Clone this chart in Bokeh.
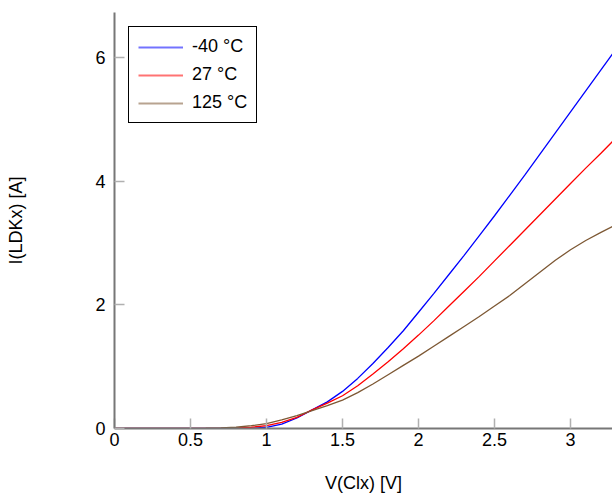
from bokeh.plotting import figure
from bokeh.models import Range1d, FixedTicker, Legend, LegendItem
from bokeh.embed import file_html
from bokeh.resources import INLINE

# Data
v_clx = [0, 0.2, 0.4, 0.6, 0.7, 0.8, 0.9, 1.0, 1.1, 1.2, 1.3, 1.4, 1.5, 1.6, 1.7,
         1.8, 1.9, 2.0, 2.1, 2.2, 2.3, 2.4, 2.5, 2.6, 2.7, 2.8, 2.9, 3.0, 3.1, 3.2, 3.28]
i_m40 = [0, 0, 0, 0, 0, 0.001, 0.005, 0.02, 0.07, 0.17, 0.30, 0.43, 0.60, 0.81, 1.05,
         1.31, 1.58, 1.88, 2.18, 2.49, 2.80, 3.12, 3.44, 3.77, 4.10, 4.44, 4.78, 5.12, 5.46, 5.80, 6.07]
i_27 = [0, 0, 0, 0.001, 0.003, 0.008, 0.02, 0.045, 0.10, 0.18, 0.30, 0.41, 0.53, 0.69, 0.88,
        1.08, 1.29, 1.51, 1.74, 1.98, 2.22, 2.46, 2.71, 2.96, 3.21, 3.46, 3.71, 3.96, 4.21, 4.45, 4.65]
i_125 = [0, 0, 0.001, 0.005, 0.01, 0.02, 0.045, 0.08, 0.14, 0.21, 0.29, 0.37, 0.46, 0.58, 0.72,
         0.87, 1.02, 1.17, 1.33, 1.49, 1.65, 1.81, 1.98, 2.15, 2.34, 2.53, 2.72, 2.89, 3.04, 3.17, 3.27]
series_labels = ["-40 °C", "27 °C", "125 °C"]
series_colors = ["#0000ff", "#ff0000", "#7d5834"]
x_ticks = [0, 0.5, 1, 1.5, 2, 2.5, 3]
y_ticks = [0, 2, 4, 6]

FONT = "Liberation Sans"
FS = "18px"

p = figure(width=612, height=495, output_backend="svg", toolbar_location=None,
           x_range=Range1d(0, 3.276), y_range=Range1d(0, 6.726),
           min_border_left=114, min_border_top=12, min_border_right=0,
           min_border_bottom=66)
p.outline_line_color = None
p.xgrid.visible = False
p.ygrid.visible = False

legend_renderers = []
for ys, c in zip([i_m40, i_27, i_125], series_colors):
    p.line(v_clx, ys, line_color=c, line_width=1.3)
    # hidden copy used only for the legend swatch (softer, like the reference)
    lr = p.line(v_clx, ys, line_color=c, line_width=2, line_alpha=0.55, visible=False)
    legend_renderers.append(lr)

for ax in (p.xaxis[0], p.yaxis[0]):
    ax.axis_line_color = "#777777"
    ax.axis_line_width = 2
    ax.major_tick_line_color = "#b0b0b0"
    ax.major_tick_line_width = 1.5
    ax.major_tick_in = 10
    ax.major_tick_out = 0
    ax.minor_tick_line_color = None
    ax.major_label_text_font = FONT
    ax.major_label_text_font_size = FS
    ax.major_label_text_color = "black"
    ax.axis_label_text_font = FONT
    ax.axis_label_text_font_size = FS
    ax.axis_label_text_font_style = "normal"
    ax.axis_label_text_color = "black"

p.xaxis.ticker = FixedTicker(ticks=x_ticks)
p.yaxis.ticker = FixedTicker(ticks=y_ticks)
p.xaxis.major_label_overrides = {0: "0", 0.5: "0.5", 1: "1", 1.5: "1.5", 2: "2", 2.5: "2.5", 3: "3"}
p.xaxis.axis_label = "V(Clx) [V]"
p.yaxis.axis_label = "I(LDKx) [A]"
p.xaxis.major_label_standoff = 4
p.xaxis.axis_label_standoff = 24
p.yaxis.major_label_standoff = 9
p.yaxis.axis_label_standoff = 66

legend = Legend(items=[LegendItem(label=l, renderers=[r]) for l, r in zip(series_labels, legend_renderers)],
                location="top_left")
legend.click_policy = "none"
legend.inactive_fill_alpha = 0
legend.margin = 14
legend.padding = 9
legend.spacing = 7
legend.glyph_width = 45
legend.label_standoff = 9
legend.label_text_font = FONT
legend.label_text_font_size = FS
legend.label_text_color = "black"
legend.border_line_color = "black"
legend.border_line_width = 1
legend.border_line_alpha = 1
legend.background_fill_alpha = 1
p.add_layout(legend)

open("out.html", "w").write(file_html(p, INLINE))
